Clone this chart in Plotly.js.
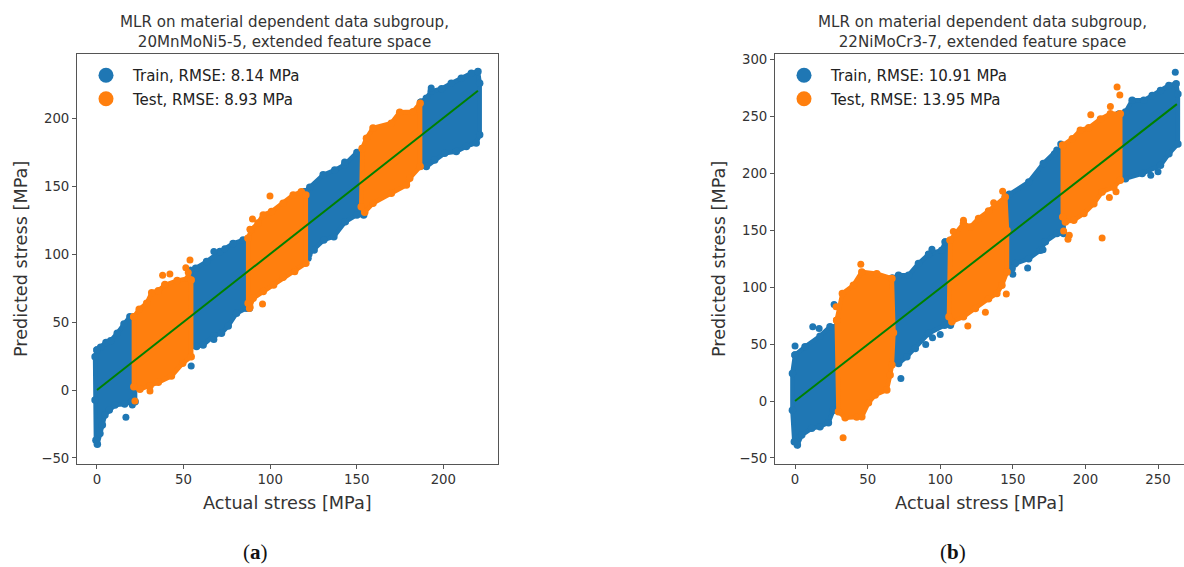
<!DOCTYPE html>
<html>
<head>
<meta charset="utf-8">
<script src="https://cdn.plot.ly/plotly-3.0.1.min.js"></script>
<style>html,body{margin:0;padding:0;background:#fff;overflow:hidden}</style>
</head>
<body>
<div id="chart" style="width:1184px;height:567px"></div>
<script>
// ---- Panel (a): cloud outlines, [actual, predicted]
const a1 = [[0,29.5],[2.1,31.5],[5.2,35],[7.9,36.4],[11.7,41.8],[15.6,48.6],[19,54],[22,54],[22,-8.6],[20,-8.6],[16,-10.3],[10.4,-11],[7.1,-14.7],[4.6,-18.4],[3.1,-25.8],[1.7,-32],[0.2,-40],[-0.6,-37],[-1.1,-7.4],[-1.1,24.6]];
const a2 = [[21.3,54],[24.4,59.5],[28.7,63.9],[31.6,71.7],[35.4,73.2],[39.2,77.4],[46.3,80.6],[52.7,82.3],[54.4,81],[54.4,24.6],[49.5,19.7],[43,10.3],[35.4,5.7],[30.6,3],[24.8,0.5],[21.3,2.5]];
const a3 = [[54,88],[57,89.7],[63.3,94.6],[71,102],[78.6,108],[84.4,110.6],[88,110.6],[88,60.2],[86.3,60.2],[80.6,56.5],[75.8,47.2],[71.9,41.8],[67.5,40],[61.3,33.2],[57.5,32],[54,32]];
const a4 = [[87.3,111.8],[89,118],[93,123],[96,129],[100.8,131.5],[107.5,137.6],[113.3,143.7],[118,146],[120.6,143.7],[120.6,93.4],[114.2,88],[107.5,83],[102,77.4],[96,72.5],[90.2,67.6],[88.3,61],[87.3,63.9]];
const a5 = [[120,146],[122.9,149.4],[130.6,158.5],[137.3,162],[143,166],[150.1,175],[154,175],[154,129],[150.1,129],[143.4,124],[136.8,113],[131,110.6],[125.4,103.2],[122.3,100],[120,100]];
const a6 = [[153.2,178],[155.6,185.5],[159.4,193],[170,196.6],[174.8,204.7],[182.5,205],[186.6,211.3],[186.6,164.6],[180.6,156],[178.7,151],[170,145],[159.4,137.6],[154.6,131],[152.6,135]];
const a7 = [[187,212],[190.2,215],[193,220],[199,222],[204.6,226],[210.4,229.7],[216.2,233.4],[220,234.6],[221,226],[221,188],[219,182],[213.3,179.4],[207.5,175.7],[200.8,174.4],[195,169.5],[190.2,164.6],[187,165]];
const aTrainOut = [[16.7,-20.1],[20.4,-11],[54.4,17.7],[67.5,37.3],[67.5,102],[73.8,104],[122,97],[143,168],[193,222.4]];
const aTestOut = [[21.9,-8.1],[30.6,-0.7],[37.9,84.5],[42.1,85.5],[39.2,78],[51.3,90],[53.7,95.8],[52.7,86.5],[95.6,63.4],[88,60],[89.8,126],[88.3,118.4],[99.9,143],[114.2,87.2]];
const aLine = [[0,0],[220,220.5]];

// ---- Panel (b)
const b1 = [[0,40.4],[6.9,47.7],[17.2,57],[24.1,65.3],[29,66],[29,-8],[26.4,-8],[23,-19],[17.2,-22.5],[11.5,-24],[4.6,-29.9],[1.6,-38.6],[-0.5,-35.7],[-1.8,-8],[-1.8,24.3]];
const b2 = [[28.7,71],[32.6,94.5],[40.2,101.8],[46,113.5],[56.3,112],[66.7,107.7],[67.8,60],[66.7,31.6],[65.5,22.8],[63.2,9.7],[55.2,5.3],[50.6,-1.5],[46,-13.8],[34.5,-14.6],[29.9,-9.4]];
const b3 = [[67,108],[71.3,110.6],[78.2,110.6],[85,120.9],[92,129],[101.1,132.6],[103.4,139.9],[107,139.9],[107,66.7],[103,66.7],[92,59.4],[82.8,46.2],[77,39],[71.3,33],[67,33]];
const b4 = [[106.9,141.4],[110.7,147],[116,156],[120.7,153],[126.4,160.4],[133.3,167],[138,172],[144.8,179.4],[146,150],[146,113.5],[142.5,101.8],[139,94.5],[133.3,90],[124.2,81.4],[116,74],[108,69.7],[106,74]];
const b5 = [[145,180],[147.6,181.7],[161,192.6],[171,208.7],[180.4,220.4],[185,220.4],[185,147.2],[180.4,147.2],[172.4,140],[169,132.6],[160.9,125],[151.7,120.9],[149.5,116.5],[145,116.5]];
const b6 = [[184.4,224.8],[191,230.6],[196.5,238],[202.3,240.3],[210.4,248],[217.2,252.6],[224,252.6],[224,194],[219.5,188],[211.5,183.8],[205.8,173.5],[199,164.8],[192,159],[186.2,157.4],[184.4,161.8]];
const b7 = [[223,252],[227.6,254],[232.2,264.3],[240.2,264.3],[246,268.6],[251.7,273],[257.5,277.4],[262.5,279],[263.7,270],[263.7,226],[257.5,217.4],[251.7,207.2],[239.1,200],[227.6,195.5],[223,195]];
const bTrainOut = [[0,48.3],[12.2,65.3],[16.6,63.8],[26.9,84.9],[72.9,19.9],[94.3,133.5],[92,129],[90,49.8],[94.7,55.6],[100,58.5],[103.4,140],[150,111.5],[160.2,117],[170.8,133],[178.6,217.4],[183,226],[245,198.4],[250,201.6],[261.9,289]];
const bTestOut = [[45.3,120.3],[33.1,-32.2],[42.5,-14.3],[28.3,82.8],[119,66],[131.1,78],[145.5,94],[143,184.4],[136.8,174.4],[109,149],[116,159],[221.8,276],[223.7,269],[217.2,259],[203.7,251.7],[211.5,143.4],[216.5,179],[221.1,184],[185,149.5],[188.9,145.7],[188,142.2]];
const bLine = [[0,0],[263,261]];

// ---- Text
const titleA = "MLR on material dependent data subgroup,<br>20MnMoNi5-5, extended feature space";
const titleB = "MLR on material dependent data subgroup,<br>22NiMoCr3-7, extended feature space";
const legendA = ["Train, RMSE: 8.14 MPa", "Test, RMSE: 8.93 MPa"];
const legendB = ["Train, RMSE: 10.91 MPa", "Test, RMSE: 13.95 MPa"];
const xLabel = "Actual stress [MPa]";
const yLabel = "Predicted stress [MPa]";
const BLUE = "#1f77b4", ORANGE = "#ff7f0e", GREEN = "#008000", INK = "#333333", SPINE = "#555555";

// ---- Helpers
const W = 1184, H = 567, FONT = "DejaVu Sans, sans-serif";
const px = v => v / W, py = v => (H - v) / H;

function cloud(polys, color, xa, ya) {
  const x = [], y = [];
  polys.forEach(p => {
    p.concat([p[0]]).forEach(q => { x.push(q[0]); y.push(q[1]); });
    x.push(null); y.push(null);
  });
  return {type:"scatter", mode:"lines+markers", x, y, xaxis:xa, yaxis:ya, fill:"toself", fillcolor:color,
    line:{color, width:4.5}, marker:{color, size:7.5}, showlegend:false, hoverinfo:"skip", connectgaps:false};
}
function dots(pts, color, xa, ya) {
  return {type:"scatter", mode:"markers", x:pts.map(p=>p[0]), y:pts.map(p=>p[1]), xaxis:xa, yaxis:ya,
    marker:{color, size:7}, showlegend:false, hoverinfo:"skip"};
}
function fit(pts, xa, ya) {
  return {type:"scatter", mode:"lines", x:pts.map(p=>p[0]), y:pts.map(p=>p[1]), xaxis:xa, yaxis:ya,
    line:{color:GREEN, width:2}, showlegend:false, hoverinfo:"skip"};
}
function key(name, color, leg, group) {
  return {type:"scatter", mode:"markers", x:[null], y:[null], name, legend:leg, legendgroup:group,
    marker:{color, size:15}, xaxis:"x", yaxis:"y"};
}

const data = [
  cloud([a1,a3,a5,a7], BLUE, "x", "y"), dots(aTrainOut, BLUE, "x", "y"),
  cloud([a2,a4,a6], ORANGE, "x", "y"), dots(aTestOut, ORANGE, "x", "y"),
  fit(aLine, "x", "y"),
  cloud([b1,b3,b5,b7], BLUE, "x2", "y2"), dots(bTrainOut, BLUE, "x2", "y2"),
  cloud([b2,b4,b6], ORANGE, "x2", "y2"), dots(bTestOut, ORANGE, "x2", "y2"),
  fit(bLine, "x2", "y2"),
  key(legendA[0], BLUE, "legend", "a0"), key(legendA[1], ORANGE, "legend", "a1"),
  key(legendB[0], BLUE, "legend2", "b0"), key(legendB[1], ORANGE, "legend2", "b1")
];

const axisBase = {showgrid:false, zeroline:false, showline:true, linecolor:SPINE, linewidth:1,
  ticks:"outside", ticklen:4, tickwidth:1, tickcolor:SPINE, dtick:50,
  tickfont:{family:FONT, size:13.3, color:INK}};
const legBase = {bgcolor:"rgba(0,0,0,0)", borderwidth:0, font:{family:FONT, size:15, color:"#222222"},
  itemwidth:44, tracegroupgap:1, xanchor:"left", yanchor:"top", itemclick:false, itemdoubleclick:false, traceorder:"grouped"};
const titleFont = {family:FONT, size:17.7, color:INK};
const noteFont = {family:FONT, size:15.1, color:INK};
const capFont = {family:"Liberation Serif, serif", size:21, color:"#111111"};

const plotTop = py(54.3), plotBottom = py(463.5);
const layout = {
  width:W, height:H, margin:{l:0,r:0,t:0,b:0}, paper_bgcolor:"#fff", plot_bgcolor:"#fff", hovermode:false,
  xaxis:Object.assign({}, axisBase, {domain:[px(77),px(497.7)], range:[-11.54,231.4], mirror:true, anchor:"y",
    title:{text:xLabel, font:titleFont, standoff:10}}),
  yaxis:Object.assign({}, axisBase, {domain:[plotBottom,plotTop], range:[-54.1,247.3], mirror:true, anchor:"x",
    title:{text:yLabel, font:titleFont, standoff:9}}),
  xaxis2:Object.assign({}, axisBase, {domain:[px(775),1], range:[-13.8,267.9], mirror:true, anchor:"y2",
    title:{text:xLabel, font:titleFont, standoff:10}}),
  yaxis2:Object.assign({}, axisBase, {domain:[plotBottom,plotTop], range:[-54.9,304.8], anchor:"x2",
    title:{text:yLabel, font:titleFont, standoff:9}}),
  legend:Object.assign({}, legBase, {x:px(79), y:py(59)}),
  legend2:Object.assign({}, legBase, {x:px(777), y:py(59)}),
  annotations:[
    {text:titleA, xref:"paper", yref:"paper", x:px(284), y:py(32), xanchor:"center", yanchor:"middle", showarrow:false, font:noteFont},
    {text:titleB, xref:"paper", yref:"paper", x:px(982), y:py(32), xanchor:"center", yanchor:"middle", showarrow:false, font:noteFont},
    {text:"(<b>a</b>)", xref:"paper", yref:"paper", x:px(255), y:py(552), xanchor:"center", yanchor:"middle", showarrow:false, font:capFont},
    {text:"(<b>b</b>)", xref:"paper", yref:"paper", x:px(953), y:py(552), xanchor:"center", yanchor:"middle", showarrow:false, font:capFont}
  ]
};
Plotly.newPlot("chart", data, layout, {staticPlot:true, displayModeBar:false});
</script>
</body>
</html>
